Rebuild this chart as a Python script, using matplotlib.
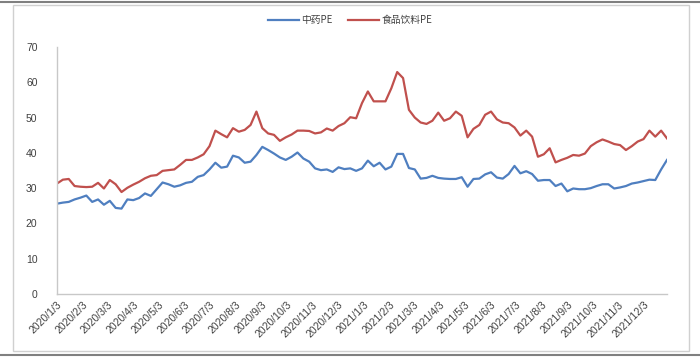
import numpy as np
import pandas as pd
import matplotlib
matplotlib.use("Agg")
import matplotlib.pyplot as plt
from matplotlib.lines import Line2D
from matplotlib.patches import Rectangle

plt.rcParams['font.family'] = ['Liberation Sans', 'Noto Sans CJK SC', 'DejaVu Sans']

dates = pd.date_range("2020-01-03", "2021-12-31", freq="7D")

# 中药PE (weekly)
tcm_pe = [25.6, 25.9, 26.1, 26.8, 27.3, 27.9, 26.1, 26.8, 25.3, 26.4,
          24.4, 24.2, 26.8, 26.6, 27.2, 28.5, 27.8, 29.7, 31.6, 31.1,
          30.4, 30.8, 31.5, 31.8, 33.2, 33.7, 35.3, 37.2, 35.8, 36.1,
          39.2, 38.7, 37.2, 37.5, 39.4, 41.7, 40.8, 39.8, 38.7, 38.0,
          38.9, 40.1, 38.4, 37.5, 35.6, 35.1, 35.3, 34.6, 35.9, 35.4,
          35.6, 34.9, 35.6, 37.8, 36.2, 37.2, 35.3, 36.1, 39.7, 39.7,
          35.7, 35.3, 32.7, 32.9, 33.5, 32.9, 32.7, 32.6, 32.6, 33.1,
          30.4, 32.6, 32.7, 33.9, 34.5, 33.0, 32.7, 34.0, 36.3, 34.2,
          34.8, 34.0, 32.1, 32.3, 32.3, 30.6, 31.3, 29.1, 29.9, 29.7,
          29.7, 30.0, 30.6, 31.1, 31.1, 29.9, 30.2, 30.6, 31.3, 31.6,
          32.0, 32.4, 32.3, 35.3, 38.0]

# 食品饮料PE (weekly)
food_pe = [31.3, 32.4, 32.6, 30.6, 30.4, 30.3, 30.4, 31.5, 29.9, 32.3,
           31.1, 28.9, 30.1, 31.0, 31.8, 32.8, 33.5, 33.7, 34.9, 35.1,
           35.3, 36.6, 38.0, 38.0, 38.7, 39.6, 41.9, 46.3, 45.3, 44.4,
           47.0, 46.0, 46.5, 47.9, 51.7, 47.0, 45.5, 45.1, 43.4, 44.4,
           45.2, 46.3, 46.3, 46.2, 45.5, 45.8, 46.9, 46.3, 47.6, 48.4,
           50.1, 49.8, 54.1, 57.4, 54.6, 54.6, 54.6, 58.3, 62.9, 61.2,
           52.2, 50.0, 48.6, 48.2, 49.1, 51.4, 49.1, 49.8, 51.7, 50.5,
           44.4, 46.8, 47.9, 50.8, 51.7, 49.5, 48.6, 48.4, 47.2, 44.9,
           46.3, 44.6, 38.9, 39.6, 41.3, 37.3, 38.0, 38.6, 39.4, 39.2,
           39.8, 41.9, 43.0, 43.8, 43.2, 42.5, 42.2, 40.8, 41.9, 43.2,
           43.9, 46.3, 44.6, 46.3, 44.1]

tick_dates = pd.date_range("2020-01-01", "2021-12-01", freq="MS") + pd.Timedelta(days=2)
tick_labels = [f"{d.year}/{d.month}/{d.day}" for d in tick_dates]

fig = plt.figure(figsize=(7.0, 3.59), dpi=100)

# outer frame
fig.add_artist(Line2D([0, 1], [1 - 2 / 359, 1 - 2 / 359], color="#808080", lw=1.5))
fig.add_artist(Line2D([0, 1], [4 / 359, 4 / 359], color="#808080", lw=1.5))
fig.add_artist(Rectangle((13 / 700, 8 / 359), 676 / 700, 346 / 359, fill=False,
                         edgecolor="#d0d0d0", lw=1.0, transform=fig.transFigure))

ax = fig.add_axes([57 / 700, 65 / 359, 610 / 700, 247 / 359])
ax.plot(dates, tcm_pe, color="#4f7fc0", lw=1.6, label="中药PE")
ax.plot(dates, food_pe, color="#c0504d", lw=1.6, label="食品饮料PE")

ax.set_xlim(dates[0], dates[-1])
ax.set_ylim(0, 70)
ax.set_yticks(range(0, 71, 10))
ax.set_xticks(tick_dates)
ax.set_xticklabels(tick_labels, rotation=45, ha="right", rotation_mode="anchor")
ax.tick_params(axis="both", length=0, labelsize=7.5, colors="#404040")
ax.tick_params(axis="y", pad=14)
ax.tick_params(axis="x", pad=4)

for s in ["top", "right"]:
    ax.spines[s].set_visible(False)
for s in ["left", "bottom"]:
    ax.spines[s].set_color("#c8c8c8")
    ax.spines[s].set_linewidth(1.0)

leg = fig.legend(loc="center", bbox_to_anchor=(0.5, 1 - 20 / 359), ncol=2, frameon=False,
                 fontsize=7, handlelength=3.2, columnspacing=1.5, handletextpad=0.3)
for t in leg.get_texts():
    t.set_color("#404040")
    t.set_fontfamily(["Noto Sans CJK SC", "DejaVu Sans"])

fig.savefig("out.png", dpi=100)
